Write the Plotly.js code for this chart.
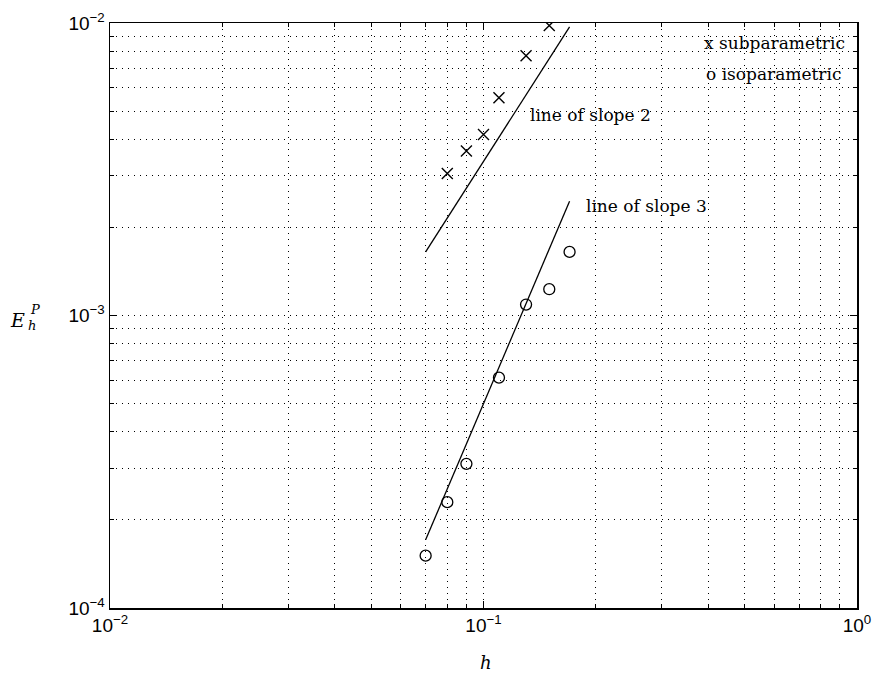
<!DOCTYPE html>
<html><head><meta charset="utf-8">
<script src="https://cdn.plot.ly/plotly-3.0.1.min.js"></script>
<style>html,body{margin:0;padding:0;background:#fff}</style>
</head><body>
<div id="plot" style="width:873px;height:675px"></div>
<script>
// Data
const subH   = [0.08, 0.09, 0.10, 0.11, 0.13, 0.15];
const subE   = [0.00306, 0.00365, 0.00416, 0.00555, 0.00773, 0.0098];
const isoH   = [0.07, 0.08, 0.09, 0.11, 0.13, 0.15, 0.17];
const isoE   = [0.000151, 0.000230, 0.000311, 0.000613, 0.00109, 0.00123, 0.00165];
const slope2H = [0.07, 0.17];
const slope2E = [0.00165, 0.0097];
const slope3H = [0.07, 0.17];
const slope3E = [0.000171, 0.00246];
const xTickVals = [0.01, 0.1, 1];
const xTickText = ['10<sup>−2</sup>', '10<sup>−1</sup>', '10<sup>0</sup>'];
const yTickVals = [0.0001, 0.001, 0.01];
const yTickText = ['10<sup>−4</sup>', '10<sup>−3</sup>', '10<sup>−2</sup>'];

const traces = [
  {x: slope2H, y: slope2E, mode: 'lines', line: {color: 'black', width: 1.3}, hoverinfo: 'skip'},
  {x: slope3H, y: slope3E, mode: 'lines', line: {color: 'black', width: 1.3}, hoverinfo: 'skip'},
  {x: subH, y: subE, mode: 'markers', marker: {symbol: 'x-thin-open', size: 11, color: 'black', line: {color: 'black', width: 1.4}}},
  {x: isoH, y: isoE, mode: 'markers', marker: {symbol: 'circle-open', size: 11, color: 'black', line: {color: 'black', width: 1.3}}}
];

const gridDash = '1px,5px';
function makeAxis(range, vals, text) {
  return {
    type: 'log', range: range,
    showline: true, linecolor: 'black', linewidth: 1.5, mirror: 'ticks',
    ticks: 'inside', ticklen: 7, tickcolor: 'black', tickwidth: 1.2,
    showgrid: true, gridcolor: 'black', gridwidth: 1, griddash: gridDash,
    zeroline: false,
    tickfont: {family: 'Liberation Sans', size: 19, color: 'black'},
    ticklabeloverflow: 'allow',
    tickmode: 'array', tickvals: vals, ticktext: text,
    minor: {dtick: 'D1', ticks: 'inside', ticklen: 4, tickcolor: 'black', tickwidth: 1,
            showgrid: true, gridcolor: 'black', gridwidth: 1, griddash: gridDash}
  };
}

const serifFam = 'DejaVu Serif';
function ann(x, y, text, size, xanchor) {
  return {xref: 'paper', yref: 'paper', x: x, y: y, text: text, showarrow: false,
          xanchor: xanchor, yanchor: 'middle', font: {family: serifFam, size: size, color: 'black'}};
}

const layout = {
  width: 873, height: 675,
  margin: {l: 110, r: 16, t: 23, b: 67},
  paper_bgcolor: 'white', plot_bgcolor: 'white',
  font: {family: serifFam, size: 16, color: 'black'},
  showlegend: false,
  xaxis: makeAxis([-2, 0], xTickVals, xTickText),
  yaxis: makeAxis([-4, -2], yTickVals, yTickText),
  annotations: [
    ann(0.503, -0.094, '<i>h</i>', 18, 'center'),
    ann(-0.137, 0.492, '<i>E</i>', 19, 'left'),
    ann(-0.110, 0.510, '<i>P</i>', 13, 'left'),
    ann(-0.112, 0.483, '<i>h</i>', 13, 'left'),
    ann(0.559, 0.843, 'line of slope 2', 17, 'left'),
    ann(0.634, 0.687, 'line of slope 3', 17, 'left'),
    ann(0.986, 0.965, 'x subparametric', 17, 'right'),
    ann(0.981, 0.913, 'o isoparametric', 17, 'right')
  ]
};

Plotly.newPlot('plot', traces, layout, {displayModeBar: false, staticPlot: true});
</script>
</body></html>
